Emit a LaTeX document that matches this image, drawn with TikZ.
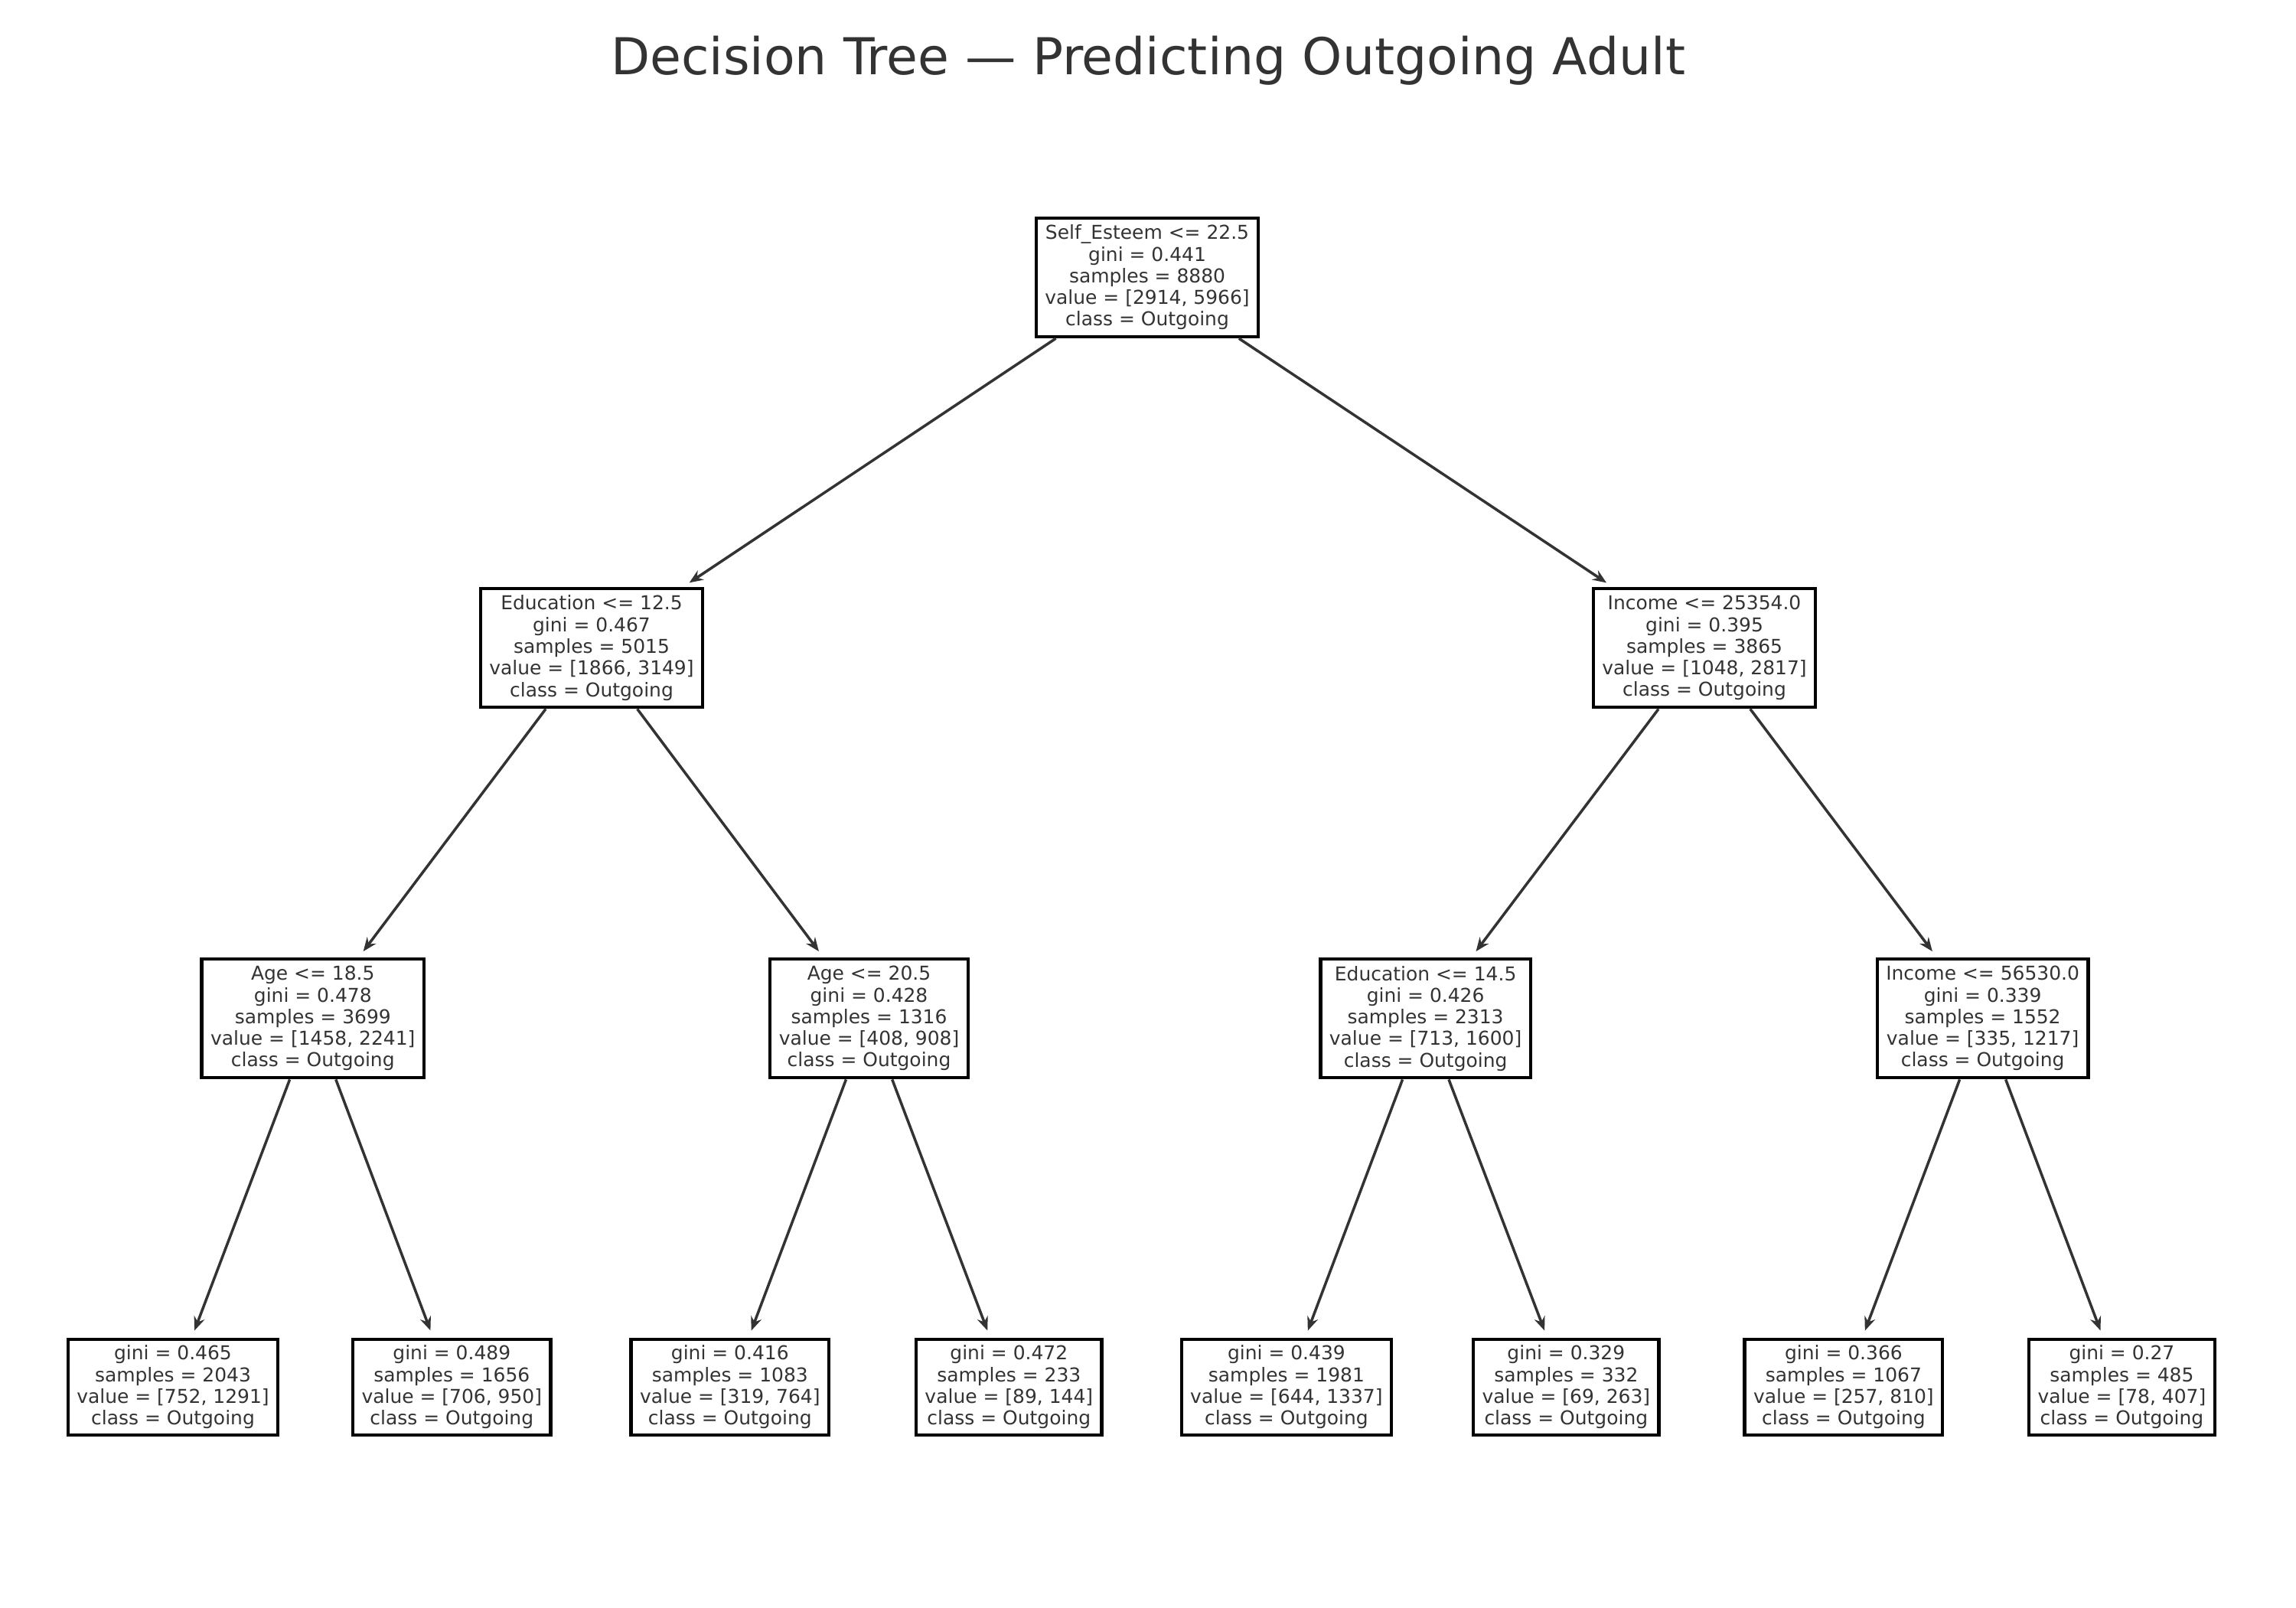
\documentclass[tikz,border=0pt]{standalone}
\usepackage{fontspec}
\setmainfont{DejaVu Sans}
\usetikzlibrary{arrows.meta}
\definecolor{ink}{HTML}{333333}

\begin{document}
\begin{tikzpicture}[
  split/.style={draw=black, line width=1.25pt, fill=white, inner xsep=0.115cm,
                inner ysep=0pt, align=center, minimum height=1.55cm, text=ink,
                font=\fontsize{7.1}{8.05}\selectfont},
  leaf/.style ={split, minimum height=1.25cm},
  edge/.style ={-{Stealth[length=1.8mm, width=1.45mm, inset=0.6mm]}, ink,
                line width=1pt, shorten >=0.1cm},
]
\useasboundingbox (0,0) rectangle (30,-21);

\node[anchor=base, text=ink, font=\fontsize{18.9}{23}\selectfont] (title) at (15,-0.975)
  {Decision Tree — Predicting Outgoing Adult};

% ============================ splits ========================================
\node[split] (root) at (14.99,-3.625)
  {Self\_Esteem <= 22.5\\gini = 0.441\\samples = 8880\\value = [2914, 5966]\\class = Outgoing};
\node[split] (edu) at (7.73,-8.466)
  {Education <= 12.5\\gini = 0.467\\samples = 5015\\value = [1866, 3149]\\class = Outgoing};
\node[split] (inc) at (22.27,-8.466)
  {Income <= 25354.0\\gini = 0.395\\samples = 3865\\value = [1048, 2817]\\class = Outgoing};
\node[split] (age1) at (4.088,-13.307)
  {Age <= 18.5\\gini = 0.478\\samples = 3699\\value = [1458, 2241]\\class = Outgoing};
\node[split] (age2) at (11.355,-13.307)
  {Age <= 20.5\\gini = 0.428\\samples = 1316\\value = [408, 908]\\class = Outgoing};
\node[split] (edu2) at (18.626,-13.307)
  {Education <= 14.5\\gini = 0.426\\samples = 2313\\value = [713, 1600]\\class = Outgoing};
\node[split] (inc2) at (25.906,-13.307)
  {Income <= 56530.0\\gini = 0.339\\samples = 1552\\value = [335, 1217]\\class = Outgoing};

% ============================ leaves ========================================
\node[leaf] (l1) at (2.26,-18.125)
  {gini = 0.465\\samples = 2043\\value = [752, 1291]\\class = Outgoing};
\node[leaf] (l2) at (5.903,-18.125)
  {gini = 0.489\\samples = 1656\\value = [706, 950]\\class = Outgoing};
\node[leaf] (l3) at (9.538,-18.125)
  {gini = 0.416\\samples = 1083\\value = [319, 764]\\class = Outgoing};
\node[leaf] (l4) at (13.183,-18.125)
  {gini = 0.472\\samples = 233\\value = [89, 144]\\class = Outgoing};
\node[leaf] (l5) at (16.809,-18.125)
  {gini = 0.439\\samples = 1981\\value = [644, 1337]\\class = Outgoing};
\node[leaf] (l6) at (20.463,-18.125)
  {gini = 0.329\\samples = 332\\value = [69, 263]\\class = Outgoing};
\node[leaf] (l7) at (24.089,-18.125)
  {gini = 0.366\\samples = 1067\\value = [257, 810]\\class = Outgoing};
\node[leaf] (l8) at (27.724,-18.125)
  {gini = 0.27\\samples = 485\\value = [78, 407]\\class = Outgoing};

% ============================ edges =========================================
\foreach \a/\b in {root/edu, root/inc, edu/age1, edu/age2, inc/edu2, inc/inc2,
                   age1/l1, age1/l2, age2/l3, age2/l4, edu2/l5, edu2/l6,
                   inc2/l7, inc2/l8}
  \draw[edge] (\a) -- (\b);

\end{tikzpicture}
\end{document}
